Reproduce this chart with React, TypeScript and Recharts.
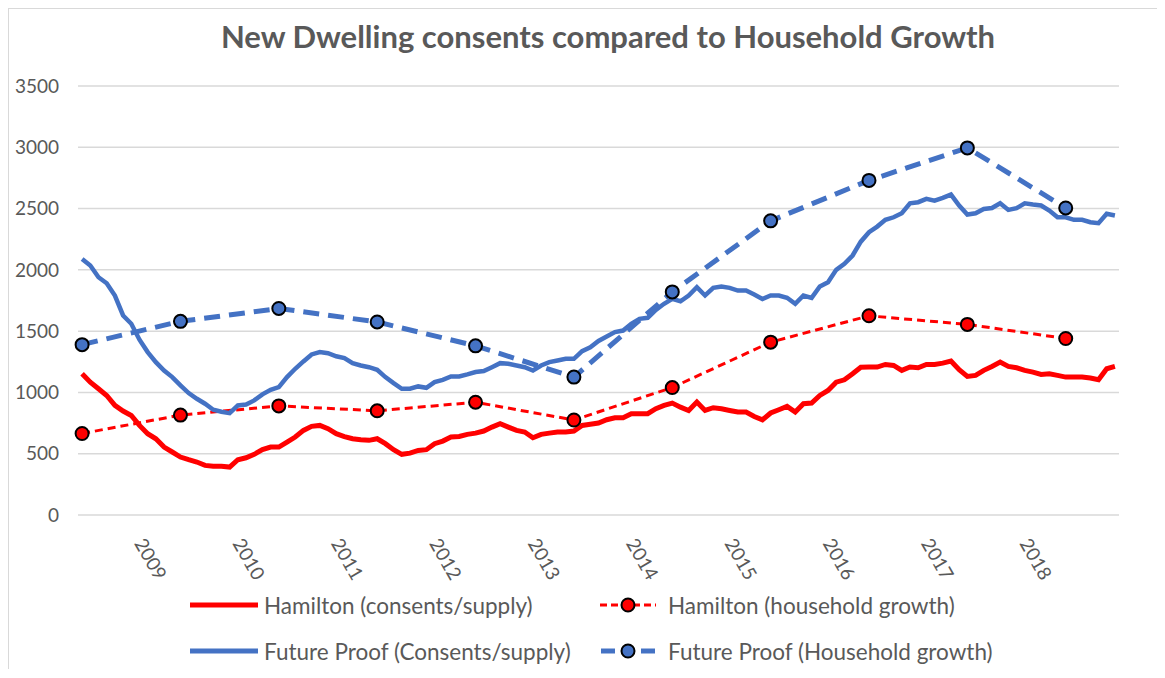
import { LineChart, Line, XAxis, YAxis, CartesianGrid } from 'recharts'

// monthly index 0 = mid 2008, 126 = end 2018
const hamiltonConsents = [
  1152, 1084, 1030, 975, 894, 848, 812, 731, 663, 622, 554, 514,
  473, 451, 432, 405, 397, 397, 391, 451, 467, 495, 533, 554,
  554, 595, 636, 690, 723, 731, 704, 663, 640, 622, 614, 609,
  622, 582, 533, 495, 505, 527, 533, 582, 603, 636, 641, 658,
  668, 685, 717, 745, 717, 690, 677, 630, 658, 668, 677, 677,
  685, 731, 740, 750, 777, 793, 793, 826, 826, 826, 867, 894,
  913, 880, 853, 921, 853, 875, 867, 853, 840, 840, 804, 777,
  832, 859, 886, 840, 908, 913, 975, 1016, 1084, 1103, 1152, 1205,
  1207, 1207, 1228, 1220, 1180, 1207, 1201, 1228, 1228, 1239, 1256, 1185,
  1131, 1139, 1180, 1212, 1247, 1212, 1201, 1180, 1166, 1147, 1152, 1139,
  1125, 1125, 1125, 1117, 1103, 1193, 1212,
]

const fpConsents = [
  2089, 2035, 1940, 1891, 1790, 1628, 1560, 1430, 1329, 1247, 1179, 1125,
  1057, 995, 948, 908, 859, 842, 831, 894, 902, 935, 984, 1022,
  1043, 1125, 1193, 1253, 1310, 1329, 1320, 1295, 1280, 1239, 1220, 1206,
  1185, 1125, 1076, 1030, 1030, 1049, 1038, 1084, 1103, 1130, 1130, 1147,
  1166, 1174, 1206, 1239, 1234, 1220, 1206, 1179, 1220, 1247, 1261, 1274,
  1274, 1337, 1369, 1420, 1456, 1492, 1505, 1560, 1600, 1609, 1674, 1723,
  1763, 1744, 1791, 1858, 1791, 1853, 1864, 1853, 1831, 1831, 1799, 1763,
  1791, 1791, 1772, 1723, 1791, 1772, 1864, 1899, 2000, 2049, 2117, 2230,
  2307, 2353, 2408, 2429, 2462, 2543, 2552, 2579, 2565, 2587, 2614, 2525,
  2451, 2462, 2497, 2505, 2543, 2489, 2503, 2543, 2533, 2525, 2484, 2429,
  2429, 2408, 2408, 2389, 2381, 2457, 2443,
]

// household growth, one value a year (mid-year months)
const householdIdx = [0, 12, 24, 36, 48, 60, 72, 84, 96, 108, 120]
const hamiltonHousehold = [665, 815, 890, 850, 920, 775, 1040, 1410, 1625, 1555, 1440]
const fpHousehold = [1390, 1580, 1685, 1575, 1380, 1125, 1820, 2400, 2730, 2995, 2505]

const yearLabels = ['2009', '2010', '2011', '2012', '2013', '2014', '2015', '2016', '2017', '2018']
const yearTickIdx = [7, 19, 31, 43, 55, 67, 79, 91, 103, 115]
const yTicks = [0, 500, 1000, 1500, 2000, 2500, 3000, 3500]

const data = hamiltonConsents.map((v, i) => {
  const h = householdIdx.indexOf(i)
  return {
    i,
    hc: v,
    fc: fpConsents[i],
    hh: h >= 0 ? hamiltonHousehold[h] : null,
    fh: h >= 0 ? fpHousehold[h] : null,
  }
})

const RED = '#ff0000'
const BLUE = '#4472c4'
const GREY = '#595959'
const FONT = 'Lato, "Open Sans", sans-serif'

const YearTick = (props: any) => {
  const { x, y, payload } = props
  const label = yearLabels[yearTickIdx.indexOf(payload.value)]
  return (
    <text
      x={x}
      y={y}
      dy="0.35em"
      textAnchor="start"
      transform={`rotate(60 ${x} ${y})`}
      fill={GREY}
      fontSize={19}
      fontFamily={FONT}
    >
      {label}
    </text>
  )
}

const legendItems = [
  { label: 'Hamilton (consents/supply)', color: RED, dashed: false, left: 181, top: 581 },
  { label: 'Hamilton (household growth)', color: RED, dashed: true, thin: true, left: 591, top: 581 },
  { label: 'Future Proof (Consents/supply)', color: BLUE, dashed: false, left: 181, top: 627 },
  { label: 'Future Proof (Household growth)', color: BLUE, dashed: true, left: 591, top: 627 },
]

export default function App() {
  return (
    <div
      style={{
        position: 'relative',
        width: 1156,
        height: 660,
        borderTop: '1px solid #d9d9d9',
        borderLeft: '1px solid #d9d9d9',
        background: '#fff',
        overflow: 'hidden',
        fontFamily: FONT,
      }}
    >
      <div
        style={{
          position: 'absolute',
          left: 99,
          width: 1000,
          top: 8,
          textAlign: 'center',
          fontSize: 31,
          fontWeight: 700,
          color: GREY,
        }}
      >
        New Dwelling consents compared to Household Growth
      </div>

      <div style={{ position: 'absolute', left: 0, top: 0 }}>
        <LineChart width={1156} height={600} data={data} margin={{ top: 77, right: 46, left: 0, bottom: 34 }}>
          <CartesianGrid vertical={false} stroke="#d9d9d9" strokeWidth={1.5} />
          <XAxis
            dataKey="i"
            type="number"
            domain={[-0.5, 126.5]}
            ticks={yearTickIdx}
            interval={0}
            axisLine={false}
            tickLine={false}
            tickSize={0}
            tickMargin={25}
            height={60}
            tick={<YearTick />}
          />
          <YAxis
            domain={[0, 3500]}
            ticks={yTicks}
            interval={0}
            axisLine={false}
            tickLine={false}
            tickSize={0}
            tickMargin={19}
            width={69}
            tick={{ fill: GREY, fontSize: 19, fontFamily: FONT }}
          />
          <Line
            dataKey="hc"
            stroke={RED}
            strokeWidth={5}
            dot={false}
            type="linear"
            isAnimationActive={false}
          />
          <Line
            dataKey="hh"
            stroke={RED}
            strokeWidth={3}
            strokeDasharray="8 5"
            connectNulls
            dot={{ r: 6.5, fill: RED, stroke: '#000', strokeWidth: 2, strokeDasharray: '' }}
            type="linear"
            isAnimationActive={false}
          />
          <Line
            dataKey="fc"
            stroke={BLUE}
            strokeWidth={4.5}
            dot={false}
            type="linear"
            isAnimationActive={false}
          />
          <Line
            dataKey="fh"
            stroke={BLUE}
            strokeWidth={5}
            strokeDasharray="16 9"
            connectNulls
            dot={{ r: 6.5, fill: BLUE, stroke: '#000', strokeWidth: 2, strokeDasharray: '' }}
            type="linear"
            isAnimationActive={false}
          />
        </LineChart>
      </div>

      {legendItems.map(item => (
        <div
          key={item.label}
          style={{
            position: 'absolute',
            left: item.left,
            top: item.top,
            display: 'flex',
            alignItems: 'center',
            height: 30,
            color: GREY,
            fontSize: 22.5,
            whiteSpace: 'nowrap',
          }}
        >
          <svg width={item.dashed ? 56 : 68} height={30} style={{ marginRight: item.dashed ? 12 : 6 }}>
            {item.dashed ? (
              item.thin ? (
                <>
                  <line x1={0} y1={15} x2={56} y2={15} stroke={item.color} strokeWidth={3} strokeDasharray="7 4" />
                  <circle cx={28} cy={15} r={6.5} fill={item.color} stroke="#000" strokeWidth={2} />
                </>
              ) : (
                <>
                  <line x1={1} y1={15} x2={15} y2={15} stroke={item.color} strokeWidth={5} />
                  <line x1={41} y1={15} x2={55} y2={15} stroke={item.color} strokeWidth={5} />
                  <circle cx={28} cy={15} r={6.5} fill={item.color} stroke="#000" strokeWidth={2} />
                </>
              )
            ) : (
              <line x1={0} y1={15} x2={68} y2={15} stroke={item.color} strokeWidth={5} />
            )}
          </svg>
          <span>{item.label}</span>
        </div>
      ))}
    </div>
  )
}
